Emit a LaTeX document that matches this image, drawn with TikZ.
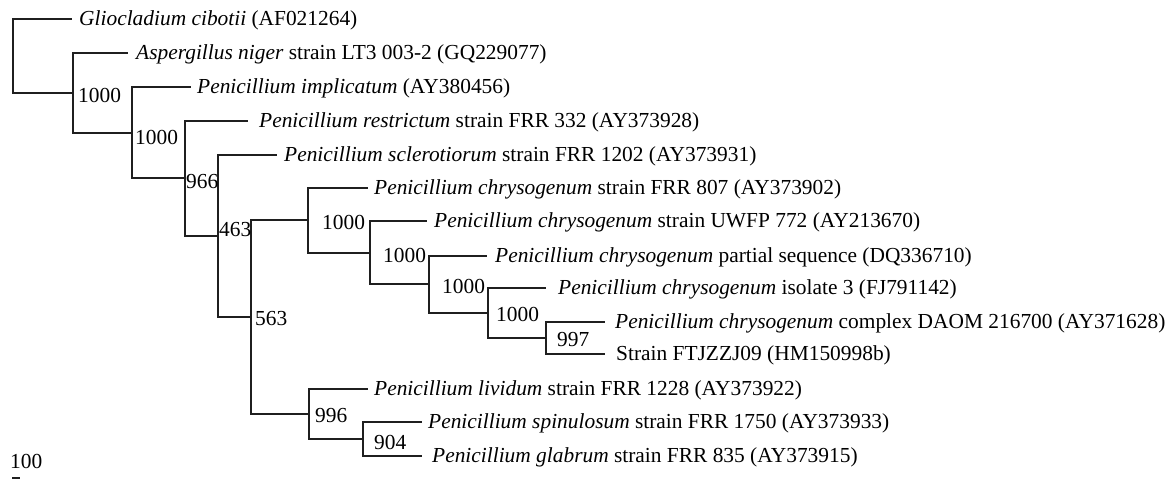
\documentclass[tikz,border=0pt]{standalone}
\usepackage{fontspec}
\setmainfont{Liberation Serif}
\usepackage{xcolor}
\definecolor{treeline}{HTML}{1F1F1F}
\usetikzlibrary{positioning}

\begin{document}
\begin{tikzpicture}[
  x=1pt, y=-1pt,
  font=\fontsize{21.4}{25}\selectfont,
  br/.style={treeline, line width=1.5pt},
  leaf/.style={anchor=west, inner sep=0pt, yshift=-1.5pt},
  boot/.style={anchor=west, inner sep=0pt},
]
\useasboundingbox (0,0) rectangle (1174,479);
% ---------------- internal nodes (junction points on the vertical lines)
\coordinate (r)   at (13,56);
\coordinate (n1)  at (73,93);
\coordinate (n2)  at (132,133);
\coordinate (n3)  at (185,178);
\coordinate (n4)  at (218,236);
\coordinate (n5)  at (251,317);
\coordinate (n6)  at (308,220);
\coordinate (n7)  at (370,253);
\coordinate (n8)  at (429,284);
\coordinate (n9)  at (488,313);
\coordinate (n10) at (546,338);
\coordinate (n11) at (309,414);
\coordinate (n12) at (363,439);
% ---------------- tips
\coordinate (t1)  at (72,19);
\coordinate (t2)  at (128,53);
\coordinate (t3)  at (191,87);
\coordinate (t4)  at (248,121);
\coordinate (t5)  at (277,155);
\coordinate (t6)  at (368,188);
\coordinate (t7)  at (427,221);
\coordinate (t8)  at (487,256);
\coordinate (t9)  at (546,288);
\coordinate (t10) at (605,322);
\coordinate (t11) at (605,354);
\coordinate (t12) at (368,389);
\coordinate (t13) at (422,422);
\coordinate (t14) at (422,456);
% ---------------- taxon labels
\node[leaf] (l1)  at (79,19)   {\textit{Gliocladium cibotii} (AF021264)};
\node[leaf] (l2)  at (136,53)  {\textit{Aspergillus niger} strain LT3 003-2 (GQ229077)};
\node[leaf] (l3)  at (197,87)  {\textit{Penicillium implicatum} (AY380456)};
\node[leaf] (l4)  at (259,121) {\textit{Penicillium restrictum} strain FRR 332 (AY373928)};
\node[leaf] (l5)  at (284,155) {\textit{Penicillium sclerotiorum} strain FRR 1202 (AY373931)};
\node[leaf] (l6)  at (374,188) {\textit{Penicillium chrysogenum} strain FRR 807 (AY373902)};
\node[leaf] (l7)  at (434,221) {\textit{Penicillium chrysogenum} strain UWFP 772 (AY213670)};
\node[leaf] (l8)  at (495,256) {\textit{Penicillium chrysogenum} partial sequence (DQ336710)};
\node[leaf] (l9)  at (558,288) {\textit{Penicillium chrysogenum} isolate 3 (FJ791142)};
\node[leaf] (l10) at (615,322) {\textit{Penicillium chrysogenum} complex DAOM 216700 (AY371628)};
\node[leaf] (l11) at (616,354) {Strain FTJZZJ09 (HM150998b)};
\node[leaf] (l12) at (374,389) {\textit{Penicillium lividum} strain FRR 1228 (AY373922)};
\node[leaf] (l13) at (428,422) {\textit{Penicillium spinulosum} strain FRR 1750 (AY373933)};
\node[leaf] (l14) at (432,456) {\textit{Penicillium glabrum} strain FRR 835 (AY373915)};
% ---------------- branches
\draw[br] (r) |- (t1);  \draw[br] (r) |- (n1);
\draw[br] (n1) |- (t2); \draw[br] (n1) |- (n2);
\draw[br] (n2) |- (t3); \draw[br] (n2) |- (n3);
\draw[br] (n3) |- (t4); \draw[br] (n3) |- (n4);
\draw[br] (n4) |- (t5); \draw[br] (n4) |- (n5);
\draw[br] (n5) |- (n6); \draw[br] (n5) |- (n11);
\draw[br] (n6) |- (t6); \draw[br] (n6) |- (n7);
\draw[br] (n7) |- (t7); \draw[br] (n7) |- (n8);
\draw[br] (n8) |- (t8); \draw[br] (n8) |- (n9);
\draw[br] (n9) |- (t9); \draw[br] (n9) |- (n10);
\draw[br] (n10) |- (t10); \draw[br] (n10) |- (t11);
\draw[br] (n11) |- (t12); \draw[br] (n11) |- (n12);
\draw[br] (n12) |- (t13); \draw[br] (n12) |- (t14);
% ---------------- bootstrap values
\node[boot] (b1)  at (78,95)   {1000};
\node[boot] (b2)  at (135,137) {1000};
\node[boot] (b3)  at (186,182) {966};
\node[boot] (b4)  at (219,230) {463};
\node[boot] (b5)  at (255,319) {563};
\node[boot] (b6)  at (322,222) {1000};
\node[boot] (b7)  at (383,255) {1000};
\node[boot] (b8)  at (442,286) {1000};
\node[boot] (b9)  at (496,314) {1000};
\node[boot] (b10) at (557,340) {997};
\node[boot] (b11) at (315,416) {996};
\node[boot] (b12) at (374,442) {904};
% ---------------- scale
\node[boot] (sc) at (10,461) {100};
\coordinate (s0) at (12,478);
\coordinate (s1) at (20,478);
\draw[br] (s0) -- (s1);
\end{tikzpicture}
\end{document}
